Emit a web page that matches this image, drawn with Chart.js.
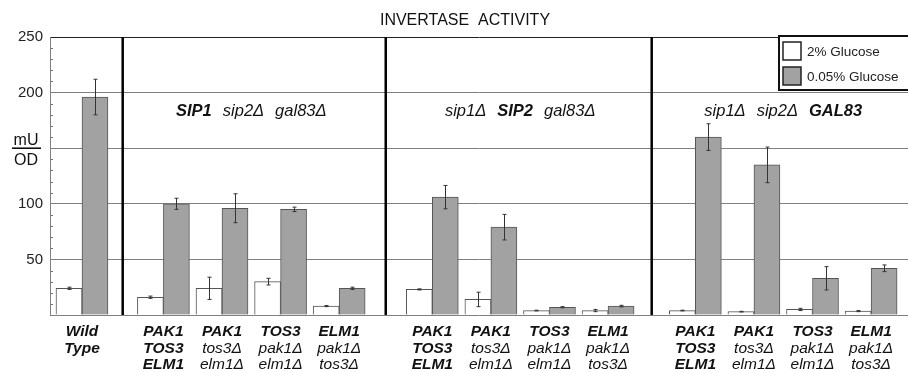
<!DOCTYPE html>
<html>
<head>
<meta charset="utf-8">
<script src="https://cdn.jsdelivr.net/npm/chart.js@4"></script>
<style>
  html, body { margin: 0; padding: 0; background: #fff; }
  canvas { display: block; }
</style>
</head>
<body>
<canvas id="invertase-chart" width="908" height="372"></canvas>
<script>
// ---------- DATA ----------
const strainLabels = [
  ["Wild", "Type"],
  ["PAK1", "TOS3", "ELM1"],
  ["PAK1", "tos3Δ", "elm1Δ"],
  ["TOS3", "pak1Δ", "elm1Δ"],
  ["ELM1", "pak1Δ", "tos3Δ"],
  ["PAK1", "TOS3", "ELM1"],
  ["PAK1", "tos3Δ", "elm1Δ"],
  ["TOS3", "pak1Δ", "elm1Δ"],
  ["ELM1", "pak1Δ", "tos3Δ"],
  ["PAK1", "TOS3", "ELM1"],
  ["PAK1", "tos3Δ", "elm1Δ"],
  ["TOS3", "pak1Δ", "elm1Δ"],
  ["ELM1", "pak1Δ", "tos3Δ"],
];
const groupTitles = [null, ["SIP1", "sip2Δ", "gal83Δ"], ["sip1Δ", "SIP2", "gal83Δ"], ["sip1Δ", "sip2Δ", "GAL83"]];
const groupSizes = [1, 4, 4, 4];

const glucose2 = [24, 16, 24, 30, 8, 23, 14, 4, 4, 4, 3, 5, 3.5];
const glucose2Err = [1, 1, 10, 3, 0.5, 0.5, 6.5, 0.3, 1, 0.3, 0.3, 1, 0.5];
const glucose005 = [196, 100, 96, 95, 24, 106, 79, 7, 8, 160, 135, 33, 42];
const glucose005Err = [16, 5, 13, 2, 1, 10.5, 11.5, 0.5, 0.7, 12, 16, 10.5, 3];

const yTicks = [50, 100, 200, 250];

// ---------- LAYOUT ----------
const family = "'Liberation Sans', Arial, Helvetica, sans-serif";
const groupGaps = [0, 0.39, 0.59, 0.49]; // extra space before each group (in bar-pair units)

// x position of every strain, with wider gaps between groups
const xPos = [];
const groupRange = [];
let pos = 0;
groupSizes.forEach((n, g) => {
  pos += groupGaps[g];
  groupRange.push([pos, pos + n - 1]);
  for (let i = 0; i < n; i++) {
    xPos.push(pos);
    pos++;
  }
});

// draw words, bold when gene is wild type (no Δ)
function drawWords(ctx, words, cx, y, size, gap) {
  const fontFor = (w) => `italic ${w.includes("Δ") ? "normal" : "bold"} ${size}px ${family}`;
  let total = 0;
  words.forEach((w, i) => {
    ctx.font = fontFor(w);
    total += ctx.measureText(w).width + (i > 0 ? gap : 0);
  });
  let x = cx - total / 2;
  words.forEach((w) => {
    ctx.font = fontFor(w);
    ctx.fillText(w, x, y);
    x += ctx.measureText(w).width + gap;
  });
}

const decorations = {
  id: "decorations",
  afterDatasetsDraw(chart) {
    const { ctx, chartArea, scales } = chart;
    const x = scales.x;
    const y = scales.y;
    ctx.save();

    // error bars
    ctx.strokeStyle = "#333";
    ctx.lineWidth = 1;
    const errs = [glucose2Err, glucose005Err];
    chart.data.datasets.forEach((ds, d) => {
      chart.getDatasetMeta(d).data.forEach((bar, i) => {
        const v = ds.data[i].y;
        const top = y.getPixelForValue(v + errs[d][i]);
        const bot = y.getPixelForValue(v - errs[d][i]);
        const bx = Math.round(bar.x) + 0.5;
        ctx.beginPath();
        ctx.moveTo(bx, top);
        ctx.lineTo(bx, bot);
        ctx.moveTo(bx - 2, top);
        ctx.lineTo(bx + 2, top);
        ctx.moveTo(bx - 2, bot);
        ctx.lineTo(bx + 2, bot);
        ctx.stroke();
      });
    });

    // minor ticks on y axis
    ctx.strokeStyle = "#777";
    for (let v = 10; v < 250; v += 10) {
      if (v % 50 === 0) continue;
      const py = Math.round(y.getPixelForValue(v)) + 0.5;
      ctx.beginPath();
      ctx.moveTo(chartArea.left, py);
      ctx.lineTo(chartArea.left + 3, py);
      ctx.stroke();
    }

    // group separators
    ctx.strokeStyle = "#000";
    ctx.lineWidth = 2.5;
    for (let g = 1; g < groupRange.length; g++) {
      const px = x.getPixelForValue((groupRange[g - 1][1] + groupRange[g][0]) / 2);
      ctx.beginPath();
      ctx.moveTo(px, chartArea.top);
      ctx.lineTo(px, chartArea.bottom);
      ctx.stroke();
    }

    ctx.fillStyle = "#111";
    ctx.textBaseline = "alphabetic";
    ctx.textAlign = "left";

    // group titles
    groupTitles.forEach((t, g) => {
      if (!t) return;
      const cx = x.getPixelForValue((groupRange[g][0] + groupRange[g][1]) / 2);
      drawWords(ctx, t, cx, y.getPixelForValue(200) + 23, 16.5, 11);
    });

    // strain labels under the axis
    strainLabels.forEach((lines, i) => {
      const cx = x.getPixelForValue(xPos[i]);
      lines.forEach((line, l) => {
        drawWords(ctx, [line], cx, chartArea.bottom + 21 + l * 16.5, 15.5, 0);
      });
    });

    // title
    ctx.font = `16px ${family}`;
    ctx.textAlign = "center";
    ctx.fillText("INVERTASE  ACTIVITY", 465, 25);

    // y axis unit
    const uy = y.getPixelForValue(150);
    ctx.font = `16px ${family}`;
    ctx.fillText("mU", 26, uy - 3);
    ctx.fillText("OD", 26, uy + 17);
    ctx.lineWidth = 1.5;
    ctx.beginPath();
    ctx.moveTo(12, uy);
    ctx.lineTo(41, uy);
    ctx.stroke();

    // legend box
    const lx = 779, ly = 36;
    ctx.fillStyle = "#fff";
    ctx.fillRect(lx, ly, 140, 54);
    ctx.lineWidth = 2;
    ctx.strokeStyle = "#111";
    ctx.strokeRect(lx, ly, 140, 54);
    chart.data.datasets.forEach((ds, d) => {
      const sy = ly + 6 + d * 25;
      ctx.fillStyle = ds.backgroundColor;
      ctx.fillRect(lx + 4, sy, 18, 18);
      ctx.lineWidth = 1.5;
      ctx.strokeStyle = "#222";
      ctx.strokeRect(lx + 4, sy, 18, 18);
      ctx.fillStyle = "#222";
      ctx.textAlign = "left";
      ctx.font = `13.5px ${family}`;
      ctx.fillText(ds.label, lx + 28, sy + 14);
    });

    ctx.restore();
  },
};

// ---------- CHART ----------
const chartCanvas = document.getElementById("invertase-chart");

const invertaseChart = new Chart(chartCanvas, {
  type: "bar",
  data: {
    datasets: [
      {
        label: "2% Glucose",
        data: xPos.map((px, i) => ({ x: px, y: glucose2[i] })),
        backgroundColor: "#ffffff",
        borderColor: "#555",
        borderWidth: 1,
        barThickness: 26,
      },
      {
        label: "0.05% Glucose",
        data: xPos.map((px, i) => ({ x: px, y: glucose005[i] })),
        backgroundColor: "#a2a2a2",
        borderColor: "#555",
        borderWidth: 1,
        barThickness: 26,
      },
    ],
  },
  options: {
    responsive: false,
    animation: false,
    layout: { padding: { top: 37, right: 0, left: 0, bottom: 0 } },
    plugins: {
      legend: { display: false },
      title: { display: false },
      tooltip: { enabled: false },
    },
    scales: {
      x: {
        type: "linear",
        min: -0.546,
        max: 14.1,
        offset: false,
        grid: { display: false },
        ticks: { display: false },
        border: { display: false },
        afterFit(scale) {
          scale.height = 57;
        },
      },
      y: {
        min: 0,
        max: 250,
        ticks: {
          stepSize: 50,
          padding: 7,
          color: "#222",
          font: { size: 15, family: family },
          callback: (v) => (yTicks.includes(v) ? String(v) : ""),
        },
        grid: {
          drawTicks: false,
          color: (c) => (c.tick && c.tick.value === 250 ? "#222" : "#808080"),
        },
        border: { color: "#808080" },
        afterFit(scale) {
          scale.width = 50;
        },
      },
    },
  },
  plugins: [decorations],
});
</script>
</body>
</html>
